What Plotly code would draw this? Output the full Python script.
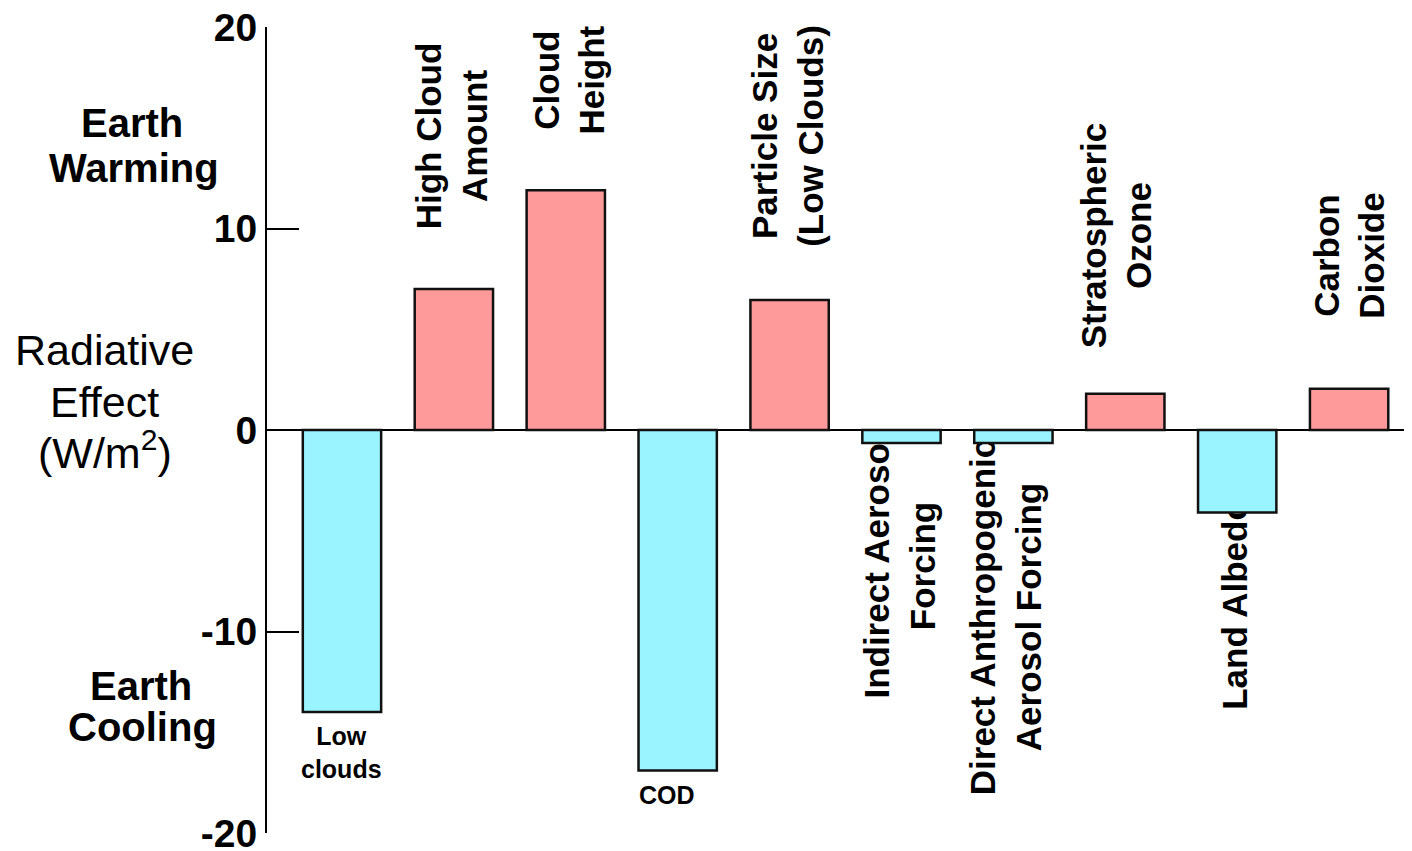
import plotly.graph_objects as go

# ---- data ----
categories = ["Low clouds", "High Cloud Amount", "Cloud Height", "COD",
              "Particle Size (Low Clouds)", "Indirect Aerosol Forcing",
              "Direct Anthropogenic Aerosol Forcing", "Stratospheric Ozone",
              "Land Albedo", "Carbon Dioxide"]
values = [-14.0, 7.0, 11.9, -16.9, 6.45, -0.65, -0.65, 1.8, -4.1, 2.05]
tick_vals = [-20, -10, 0, 10, 20]
tick_text = ["-20", "-10", "0", "10", "20"]

# rotated bar labels (text, category index, centre offset, centre value)
rot_labels = ["High Cloud<br>Amount", "Cloud<br>Height", "Particle Size<br>(Low Clouds)",
              "Indirect Aerosol<br>Forcing", "Direct Anthropogenic<br>Aerosol Forcing",
              "Stratospheric<br>Ozone", "Land Albedo", "Carbon<br>Dioxide"]
rot_idx = [1, 2, 4, 5, 6, 7, 8, 9]
rot_dx = [-0.02, 0.027, -0.02, -0.02, -0.07, -0.083, -0.02, 0.0]
rot_center = [14.59, 17.37, 14.59, -6.75, -9.28, 9.65, -8.66, 8.66]

PINK = "#FF9A9A"
CYAN = "#9AF4FF"
FONT = "Liberation Sans, Arial, sans-serif"

x = list(range(len(categories)))
colors = [PINK if v >= 0 else CYAN for v in values]

fig = go.Figure()

# helper (invisible) bars that carry the rotated labels, drawn beneath the real bars
span = 1.0
fig.add_trace(go.Bar(
    x=[x[i] + d for i, d in zip(rot_idx, rot_dx)],
    y=[span] * len(rot_idx),
    base=[c - span / 2 for c in rot_center],
    width=0.7,
    marker=dict(color="rgba(0,0,0,0)", line=dict(width=0)),
    text=rot_labels,
    textposition="inside",
    insidetextanchor="middle",
    textangle=-90,
    constraintext="none",
    insidetextfont=dict(family=FONT, size=35, color="black", weight="bold"),
    cliponaxis=False,
    hoverinfo="skip",
    showlegend=False,
))

fig.add_trace(go.Bar(
    x=x, y=values, width=0.7,
    marker=dict(color=colors, line=dict(color="#111111", width=2.5)),
    hovertext=categories, hoverinfo="text+y",
    showlegend=False,
))

annotations = [
    dict(text="<b>Earth</b>", x=-0.118, y=15.26),
    dict(text="<b>Warming</b>", x=-0.116, y=13.0),
    dict(text="<b>Earth</b>", x=-0.110, y=-12.70),
    dict(text="<b>Cooling</b>", x=-0.109, y=-14.76),
]
for a in annotations:
    fig.add_annotation(xref="paper", yref="y", showarrow=False,
                       xanchor="center", yanchor="middle",
                       font=dict(family=FONT, size=40, color="black"), **a)

side_lines = ["Radiative", "Effect", "(W/m<sup>2</sup>)"]
side_y = [3.97, 1.39, -1.0]
for t, yy in zip(side_lines, side_y):
    fig.add_annotation(xref="paper", yref="y", x=-0.1415, y=yy, showarrow=False,
                       xanchor="center", yanchor="middle", text=t,
                       font=dict(family=FONT, size=43, color="black"))

fig.add_annotation(xref="x", yref="y", x=0, y=-15.98, showarrow=False,
                   xanchor="center", yanchor="middle", text="<b>Low<br>clouds</b>",
                   font=dict(family=FONT, size=25, color="black"))
fig.add_annotation(xref="x", yref="y", x=2.904, y=-18.11, showarrow=False,
                   xanchor="center", yanchor="middle", text="<b>COD</b>",
                   font=dict(family=FONT, size=25, color="black"))

fig.update_layout(
    width=1412, height=851,
    margin=dict(l=259, r=8, t=19, b=26, autoexpand=False),
    paper_bgcolor="white", plot_bgcolor="white",
    barmode="overlay",
    showlegend=False,
    xaxis=dict(range=[-0.670, 9.562], showgrid=False, zeroline=False,
               showline=False, showticklabels=False, ticks="", automargin=False),
    yaxis=dict(range=[-20, 20], tickvals=tick_vals, ticktext=tick_text,
               automargin=False,
               showgrid=False, zeroline=True, zerolinecolor="black", zerolinewidth=2,
               showline=True, linecolor="black", linewidth=2,
               ticks="inside", ticklen=32, tickwidth=2, tickcolor="black",
               ticklabelstandoff=0, ticklabeloverflow="allow",
               tickfont=dict(family=FONT, size=39, color="black", weight="bold")),
)

fig.write_html("out.html")
